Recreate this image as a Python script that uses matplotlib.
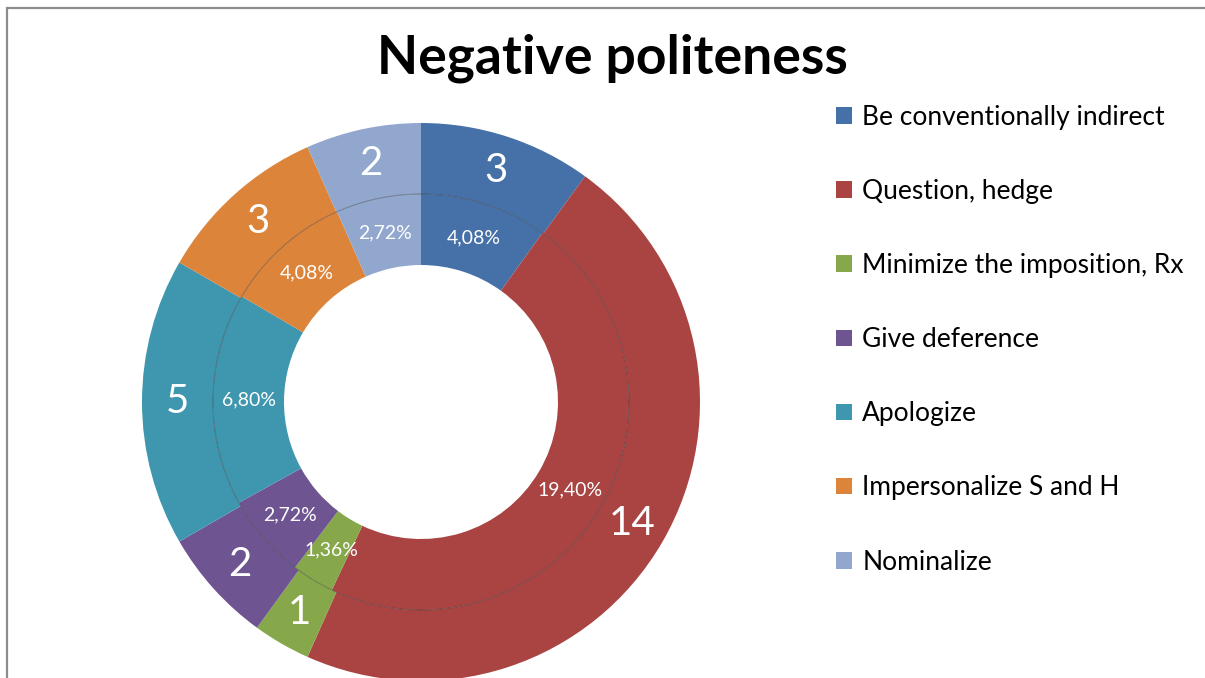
import numpy as np
import matplotlib as mpl
import matplotlib.pyplot as plt
from matplotlib.patches import Circle, Rectangle

# Data
categories = ['Be conventionally indirect', 'Question, hedge', 'Minimize the imposition, Rx',
              'Give deference', 'Apologize', 'Impersonalize S and H', 'Nominalize']
counts = [3, 14, 1, 2, 5, 3, 2]
percents = [4.08, 19.40, 1.36, 2.72, 6.80, 4.08, 2.72]
colors = ['#4671A8', '#A94443', '#86A84A', '#6E5591', '#3F97AF', '#DD843B', '#92A7CE']

font = 'Lato'

fig = plt.figure(figsize=(12.05, 6.78), dpi=100)
fig.patch.set_facecolor('white')

# chart area frame (only top/left visible)
fig.patches.append(Rectangle((7.5/1205, -0.1), 1.2, 1.1 - 8/678, transform=fig.transFigure,
                             fill=False, edgecolor='#8c8c8c', lw=1.6))

R = 279
ax = fig.add_axes([(421 - R)/1205, (276 - R)/678, 2*R/1205, 2*R/678])

w_out = 71/R
r_in = 208/R
w_in = 71/R

outer, _ = ax.pie(counts, colors=colors, radius=1, startangle=90, counterclock=False,
                  wedgeprops=dict(width=w_out, edgecolor='none'))
inner, _ = ax.pie(percents, colors=colors, radius=r_in, startangle=90, counterclock=False,
                  wedgeprops=dict(width=w_in, edgecolor='none'))
ax.add_patch(Circle((0, 0), r_in, fill=False, edgecolor='#333333', lw=0.7, alpha=0.45))
ax.set_xlim(-1, 1)
ax.set_ylim(-1, 1)
ax.set_aspect('equal')
ax.axis('off')

def put_labels(wedges, texts, rmid, size):
    for w, t in zip(wedges, texts):
        ang = np.deg2rad((w.theta1 + w.theta2) / 2)
        ax.text(rmid*np.cos(ang), rmid*np.sin(ang), t, ha='center', va='center',
                color='white', fontsize=size, family=font)

put_labels(outer, [str(c) for c in counts], 1 - w_out/2, 29)
put_labels(inner, [('%.2f%%' % p).replace('.', ',') for p in percents], r_in - w_in/2, 14)

fig.text(612/1205, 1 - 58/678, 'Negative politeness', ha='center', va='center',
         fontsize=38.5, fontweight='bold', family=font)

leg = fig.legend(outer, categories, loc='upper left', bbox_to_anchor=(836/1205, 1 - 105/678),
                 frameon=False, prop=dict(family=font, size=19), labelspacing=1.86,
                 handlelength=0.6, handleheight=0.6, handletextpad=0.4,
                 borderaxespad=0, borderpad=0)

fig.savefig('out.png', dpi=100)
